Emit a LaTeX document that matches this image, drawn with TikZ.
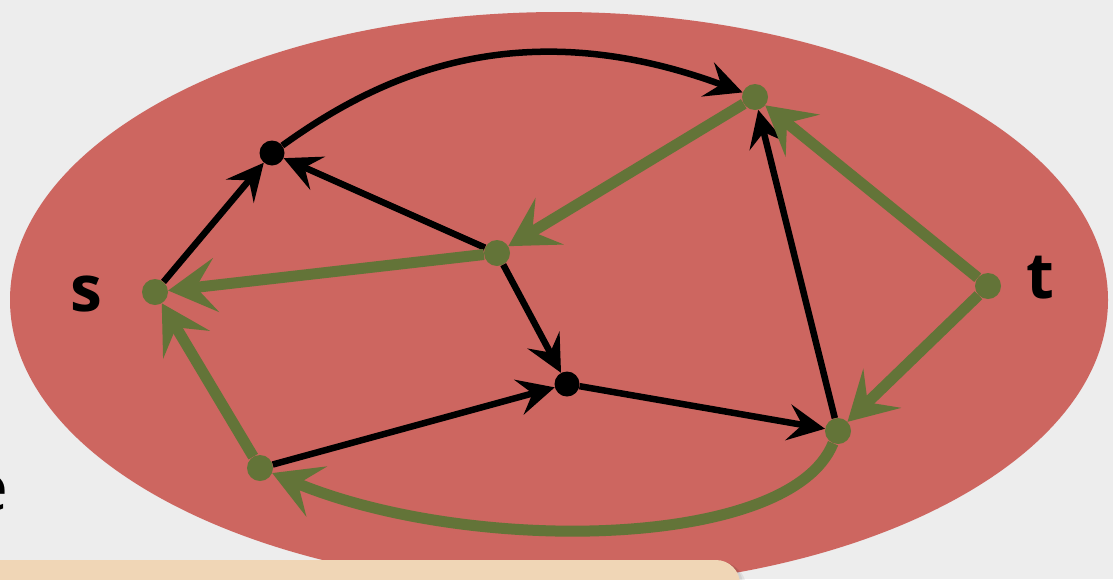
\documentclass[tikz,border=0pt]{standalone}
\usepackage{fontspec}
\setmainfont{Open Sans}
\usetikzlibrary{arrows.meta}
\definecolor{bgc}{RGB}{237,237,237}
\definecolor{redc}{RGB}{205,102,96}
\definecolor{grnc}{RGB}{99,116,56}
\definecolor{peach}{RGB}{240,214,182}
\pgfdeclarelayer{back}
\pgfdeclarelayer{blk}
\pgfdeclarelayer{grn}
\pgfsetlayers{back,blk,grn,main}
\begin{document}
\begin{tikzpicture}[x=1pt,y=-1pt,
  bdot/.style={circle,fill=black,inner sep=0pt,minimum size=25pt},
  gdot/.style={circle,fill=grnc,inner sep=0pt,minimum size=26pt},
  blkedge/.style={line width=6.5pt,draw=black,-{Stealth[length=37pt,width=36pt,inset=14pt]}},
  grnedge/.style={line width=11pt,draw=grnc,-{Stealth[length=48pt,width=54pt,inset=20pt]}},
  lbl/.style={font=\fontsize{64}{64}\selectfont\bfseries,inner sep=0pt}]
\useasboundingbox (0,0) rectangle (1113,579);
\begin{pgfonlayer}{back}
\fill[bgc] (0,0) rectangle (1113,579);
\fill[redc] (559,300) ellipse [x radius=549, y radius=288];
\end{pgfonlayer}
% nodes
\node[gdot] (s) at (155,292) {};
\node[bdot] (a) at (272,153) {};
\node[gdot] (T) at (755,97) {};
\node[gdot] (m) at (497,253) {};
\node[bdot] (c) at (567,384) {};
\node[gdot] (t) at (988,286) {};
\node[gdot] (b) at (260,468) {};
\node[gdot] (d) at (838,431) {};
\node[lbl,anchor=base] (sl) at (86,311) {s};
\node[lbl,anchor=base] (tl) at (1040,298) {t};
\node[font=\fontsize{64}{64}\selectfont,inner sep=0pt,anchor=base east] (el) at (9,510) {e};
% black edges
\begin{pgfonlayer}{blk}
\draw[blkedge] (s) -- (a);
\draw[blkedge] (a) .. controls (380,75) and (520,10) .. (T);
\draw[blkedge] (m) -- (a);
\draw[blkedge] (m) -- (c);
\draw[blkedge] (b) -- (c);
\draw[blkedge] (c) -- (d);
\draw[blkedge] (d) -- (T);
\end{pgfonlayer}
% green edges
\begin{pgfonlayer}{grn}
\draw[grnedge] (T) -- (m);
\draw[grnedge] (m) -- (s);
\draw[grnedge] (t) -- (T);
\draw[grnedge] (t) -- (d);
\draw[grnedge] (b) -- (s);
\draw[grnedge] (d) .. controls (790,550) and (470,555) .. (b);
\end{pgfonlayer}
% peach box
\fill[black,opacity=0.06,rounded corners=24pt] (-40,563) rectangle (746,640);
\fill[black,opacity=0.06,rounded corners=24pt] (-40,561) rectangle (743,640);
\fill[peach,rounded corners=24pt] (-40,560) rectangle (740,640);
\end{tikzpicture}
\end{document}
